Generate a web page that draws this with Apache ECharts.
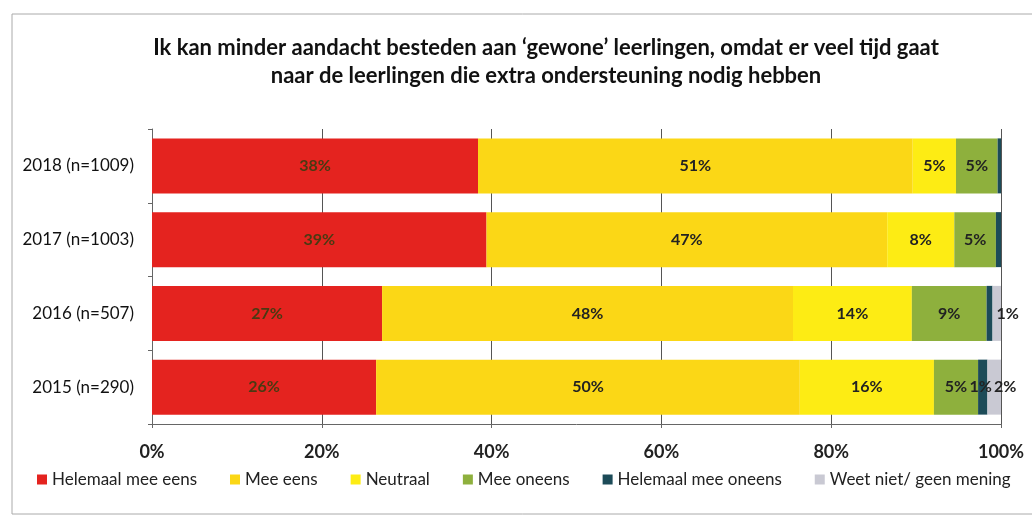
<!DOCTYPE html>
<html>
<head>
<meta charset="utf-8">
<script src="https://cdn.jsdelivr.net/npm/echarts@6/dist/echarts.min.js"></script>
<style>
  html, body { margin: 0; padding: 0; background: #fff; }
  #chart { width: 1032px; height: 520px; }
</style>
</head>
<body>
<div id="chart"></div>
<script>
// categorieen (van boven naar onder)
var categories = ['2018 (n=1009)', '2017 (n=1003)', '2016 (n=507)', '2015 (n=290)'];
var seriesNames = ['Helemaal mee eens', 'Mee eens', 'Neutraal', 'Mee oneens', 'Helemaal mee oneens', 'Weet niet/ geen mening'];

// percentages per antwoord, zelfde volgorde als categories
var helemaalMeeEens = [38.4, 39.4, 27.1, 26.4];
var meeEens = [51.2, 47.2, 48.4, 49.9];
var neutraal = [5.1, 7.9, 14.0, 15.8];
var meeOneens = [4.9, 4.9, 8.8, 5.2];
var helemaalMeeOneens = [0.4, 0.6, 0.7, 1.1];
var weetNiet = [0, 0, 1.0, 1.6];

var xTicks = [0, 20, 40, 60, 80, 100];

var colors = ['#e4231f', '#fbd716', '#fdec14', '#8eb03d', '#1c4b58', '#c9c9d3'];
var values = [helemaalMeeEens, meeEens, neutraal, meeOneens, helemaalMeeOneens, weetNiet];
// de kleine stukjes aan het eind iets opschuiven zodat de labels niet overlappen
var labelShift = [0, 0, 0, 0, -2, 11];

var chart = echarts.init(document.getElementById('chart'));

var series = seriesNames.map(function (name, i) {
    return {
        name: name,
        type: 'bar',
        stack: 'totaal',
        barWidth: 55,
        itemStyle: { color: colors[i] },
        label: {
            show: true,
            position: 'inside',
            offset: [labelShift[i], 0],
            color: i === 0 ? '#4a3a12' : '#222',
            fontFamily: 'Lato',
            fontWeight: 'bold',
            fontSize: 16,
            formatter: function (p) {
                // kleine stukjes krijgen geen label
                if (p.value < 1) return '';
                return Math.round(p.value) + '%';
            }
        },
        data: values[i]
    };
});

var option = {
    animation: false,
    backgroundColor: '#fff',
    textStyle: { fontFamily: 'Lato' },
    title: {
        text: 'Ik kan minder aandacht besteden aan \u2018gewone\u2019 leerlingen, omdat er veel tijd gaat\nnaar de leerlingen die extra ondersteuning nodig hebben',
        left: 541,
        textAlign: 'center',
        top: 29,
        textStyle: {
            fontFamily: 'Lato',
            fontWeight: 'bold',
            fontSize: 22,
            lineHeight: 28,
            color: '#111'
        }
    },
    legend: {
        left: 37,
        top: 471,
        width: 1000,
        padding: 0,
        icon: 'rect',
        itemWidth: 10,
        itemHeight: 10,
        itemGap: 33,
        textStyle: { fontFamily: 'Lato', fontSize: 17, color: '#222' },
        data: seriesNames
    },
    grid: {
        left: 152,
        right: 31,
        top: 129,
        bottom: 96,
        containLabel: false
    },
    xAxis: {
        type: 'value',
        min: xTicks[0],
        max: xTicks[xTicks.length - 1],
        interval: 20,
        axisLine: { show: true, lineStyle: { color: '#666' } },
        axisTick: { show: true, length: 4, lineStyle: { color: '#666' } },
        axisLabel: {
            formatter: '{value}%',
            margin: 19,
            fontFamily: 'Lato',
            fontWeight: 'bold',
            fontSize: 18,
            color: '#222'
        },
        splitLine: { show: true, lineStyle: { color: '#555', width: 1 } }
    },
    yAxis: {
        type: 'category',
        inverse: true,
        data: categories,
        axisLine: { show: true, lineStyle: { color: '#666' } },
        axisTick: { show: true, length: 4, lineStyle: { color: '#666' } },
        axisLabel: {
            margin: 18,
            fontFamily: 'Lato',
            fontSize: 17,
            color: '#111'
        }
    },
    graphic: [{
        type: 'rect',
        shape: { x: 12, y: 14, width: 1030, height: 500 },
        style: { fill: 'none', stroke: '#aaa', lineWidth: 1 },
        silent: true
    }],
    series: series
};

chart.setOption(option);
</script>
</body>
</html>
